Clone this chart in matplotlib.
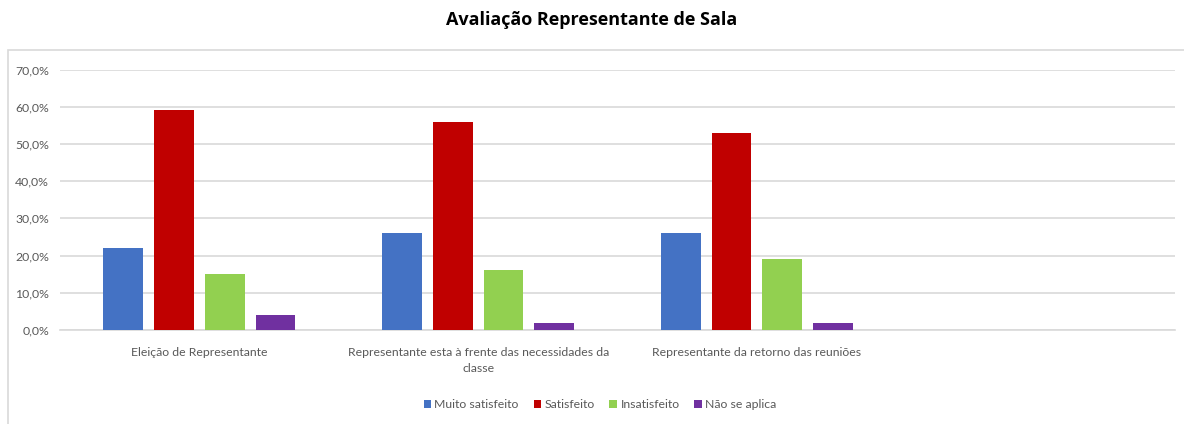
import matplotlib
matplotlib.use("Agg")
import matplotlib.pyplot as plt
from matplotlib.patches import Rectangle
from matplotlib.ticker import FuncFormatter
import numpy as np

plt.rcParams['font.family'] = ['Lato', 'DejaVu Sans']

categories = [
    "Eleição de Representante",
    "Representante esta à frente das necessidades da\nclasse",
    "Representante da retorno das reuniões",
    "",
]
series_names = ["Muito satisfeito", "Satisfeito", "Insatisfeito", "Não se aplica"]
muito_satisfeito = [22, 26, 26, np.nan]
satisfeito = [59, 56, 53, np.nan]
insatisfeito = [15, 16, 19, np.nan]
nao_se_aplica = [4, 2, 2, np.nan]
colors = ["#4472C4", "#C00000", "#92D050", "#7030A0"]
yticks = [0, 10, 20, 30, 40, 50, 60, 70]

fig = plt.figure(figsize=(11.84, 4.24), dpi=100)
fig.patches.append(Rectangle((8 / 1184, -0.01), 1.0, (424 - 50) / 424 + 0.01,
                             transform=fig.transFigure, fill=False,
                             edgecolor="#D9D9D9", linewidth=1.2))

ax = fig.add_axes([60 / 1184, 94 / 424, 1115 / 1184, 260.5 / 424])
x = np.arange(len(categories))
width = 0.143
step = 0.182
all_series = [muito_satisfeito, satisfeito, insatisfeito, nao_se_aplica]
for i, (vals, name, c) in enumerate(zip(all_series, series_names, colors)):
    ax.bar(x + (i - 1.5) * step, vals, width, color=c, label=name, zorder=3)

ax.set_xlim(-0.5, len(categories) - 0.5)
ax.set_ylim(0, 70)
ax.set_yticks(yticks)
ax.yaxis.set_major_formatter(FuncFormatter(lambda v, p: f"{v:.1f}%".replace(".", ",")))
ax.grid(axis="y", color="#D9D9D9", linewidth=1.2, zorder=0)
for s in ["top", "right", "left"]:
    ax.spines[s].set_visible(False)
ax.spines["bottom"].set_color("#D9D9D9")
ax.spines["bottom"].set_linewidth(1.2)
ax.tick_params(axis="both", length=0, labelsize=8.8, colors="#595959")
ax.tick_params(axis="y", pad=8)
ax.tick_params(axis="x", pad=12)
ax.set_xticks(x)
ax.set_xticklabels(categories, linespacing=1.6)

fig.text(0.5, 0.952, "Avaliação Representante de Sala", ha="center", va="center",
         fontsize=13, fontweight="bold", color="black",
         family=["Open Sans", "DejaVu Sans"])

fig.legend(loc="center", bbox_to_anchor=(600 / 1184, 1 - 405 / 424), ncol=4,
           frameon=False, fontsize=8.8, handlelength=0.6, handleheight=0.6,
           handletextpad=0.3, columnspacing=1.2, labelcolor="#595959")

fig.savefig("out.png", dpi=100)
